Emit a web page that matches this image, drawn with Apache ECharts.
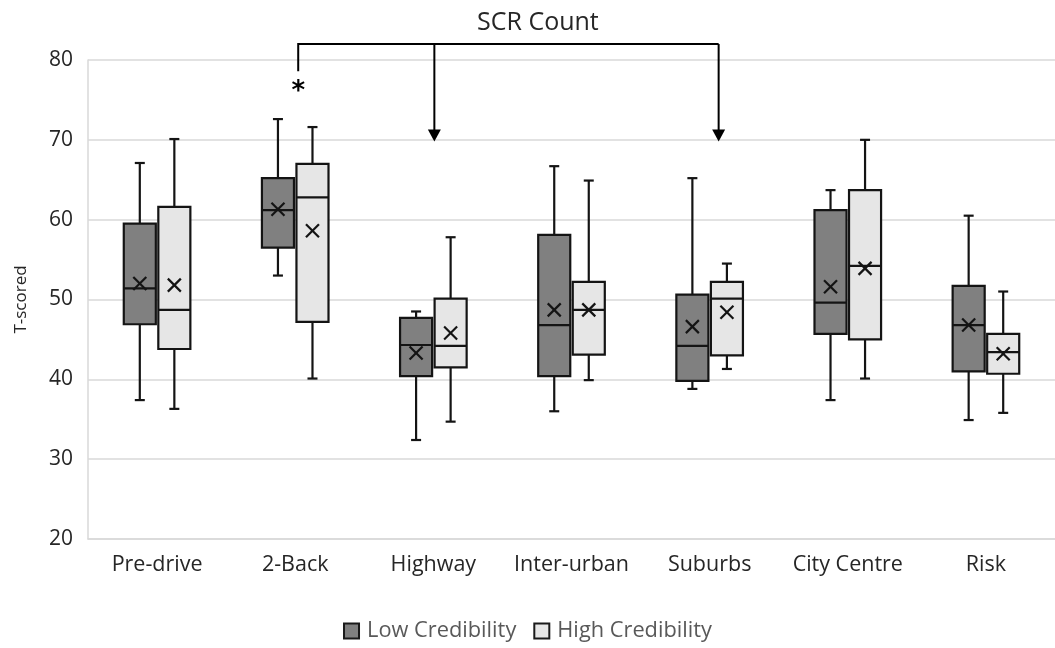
<!DOCTYPE html>
<html>
<head>
<meta charset="utf-8">
<script src="https://cdn.jsdelivr.net/npm/echarts@6/dist/echarts.min.js"></script>
<style>html,body{margin:0;padding:0;background:#fff}#c{width:1055px;height:648px}</style>
</head>
<body>
<div id="c"></div>
<script>
// ---- data ----
const categories = ['Pre-drive', '2-Back', 'Highway', 'Inter-urban', 'Suburbs', 'City Centre', 'Risk'];
const yTicks = [20, 30, 40, 50, 60, 70, 80];

const lowMin    = [37.4, 53.0, 32.4, 36.0, 38.8, 37.4, 34.9];
const lowQ1     = [46.9, 56.5, 40.4, 40.4, 39.8, 45.7, 41.0];
const lowMedian = [51.4, 61.2, 44.3, 46.8, 44.2, 49.6, 46.8];
const lowQ3     = [59.5, 65.2, 47.7, 58.1, 50.6, 61.2, 51.7];
const lowMax    = [67.1, 72.6, 48.5, 66.7, 65.2, 63.7, 60.5];
const lowMean   = [52.0, 61.3, 43.3, 48.7, 46.6, 51.6, 46.8];

const highMin    = [36.3, 40.1, 34.7, 39.9, 41.3, 40.1, 35.8];
const highQ1     = [43.8, 47.2, 41.5, 43.1, 43.0, 45.0, 40.7];
const highMedian = [48.7, 62.8, 44.2, 48.7, 50.1, 54.2, 43.4];
const highQ3     = [61.6, 67.0, 50.1, 52.2, 52.2, 63.7, 45.7];
const highMax    = [70.1, 71.6, 57.8, 64.9, 54.5, 70.0, 51.0];
const highMean   = [51.8, 58.6, 45.8, 48.7, 48.4, 53.9, 43.2];

const seriesNames = ['Low Credibility', 'High Credibility'];

// significance annotation (category index, values)
const bracketFrom = 1;          // 2-Back
const bracketTargets = [2, 4];  // Highway, Suburbs
const bracketY = 82;
const arrowTipY = 69.8;
const bracketLeftEndY = 78.6;
const starY = 75.9;

// ---- build ----
function rows(mn, q1, md, q3, mx, mean) {
  return categories.map((c, i) => [i, mn[i], q1[i], md[i], q3[i], mx[i], mean[i]]);
}
const lowData = rows(lowMin, lowQ1, lowMedian, lowQ3, lowMax, lowMean);
const highData = rows(highMin, highQ1, highMedian, highQ3, highMax, highMean);

function boxRenderer(offsetFrac, fill) {
  return function (params, api) {
    const ci = api.value(0);
    const band = api.size([1, 0])[0];
    const cx = api.coord([ci, 0])[0] + offsetFrac * band;
    const y = k => api.coord([ci, api.value(k)])[1];
    const yMin = y(1), yQ1 = y(2), yMed = y(3), yQ3 = y(4), yMax = y(5), yMean = y(6);
    const hw = 0.116 * band;
    const cap = 5;
    const xs = 6.5;
    const stroke = { stroke: '#141414', lineWidth: 2.2, fill: null };
    return {
      type: 'group',
      children: [
        { type: 'line', shape: { x1: cx, y1: yMax, x2: cx, y2: yQ3 }, style: stroke },
        { type: 'line', shape: { x1: cx, y1: yQ1, x2: cx, y2: yMin }, style: stroke },
        { type: 'line', shape: { x1: cx - cap, y1: yMax, x2: cx + cap, y2: yMax }, style: stroke },
        { type: 'line', shape: { x1: cx - cap, y1: yMin, x2: cx + cap, y2: yMin }, style: stroke },
        { type: 'rect', shape: { x: cx - hw, y: yQ3, width: 2 * hw, height: yQ1 - yQ3 },
          style: { fill: fill, stroke: '#141414', lineWidth: 2.2 } },
        { type: 'line', shape: { x1: cx - hw, y1: yMed, x2: cx + hw, y2: yMed }, style: stroke },
        { type: 'line', shape: { x1: cx - xs, y1: yMean - xs, x2: cx + xs, y2: yMean + xs }, style: stroke },
        { type: 'line', shape: { x1: cx - xs, y1: yMean + xs, x2: cx + xs, y2: yMean - xs }, style: stroke }
      ]
    };
  };
}

function annotationRenderer(params, api) {
  const nudges = [3, 1, 9];
  const xFrom = api.coord([bracketFrom, 0])[0] + nudges[0];
  const yTop = api.coord([bracketFrom, bracketY])[1];
  const yLeftEnd = api.coord([bracketFrom, bracketLeftEndY])[1];
  const yTip = api.coord([bracketFrom, arrowTipY])[1];
  const yStar = api.coord([bracketFrom, starY])[1];
  const st = { stroke: '#000', lineWidth: 2, fill: null };
  const xt = bracketTargets.map((t, i) => api.coord([t, 0])[0] + nudges[i + 1]);
  const xRight = Math.max.apply(null, xt);
  const children = [
    { type: 'polyline', shape: { points: [[xFrom, yLeftEnd], [xFrom, yTop], [xRight, yTop]] }, style: st },
    { type: 'text', x: xFrom, y: yStar, style: { text: '*', fontSize: 26, fontWeight: 'bold',
        fontFamily: 'DejaVu Sans', fill: '#000', align: 'center', verticalAlign: 'middle' } }
  ];
  xt.forEach(x => {
    children.push({ type: 'line', shape: { x1: x, y1: yTop, x2: x, y2: yTip - 10 }, style: st });
    children.push({ type: 'polygon', shape: { points: [[x - 6.5, yTip - 12], [x + 6.5, yTip - 12], [x, yTip]] },
      style: { fill: '#000' } });
  });
  return { type: 'group', children: children };
}

const font = '"Open Sans", "Noto Sans", sans-serif';
const chart = echarts.init(document.getElementById('c'), null, { renderer: 'canvas' });
chart.setOption({
  animation: false,
  backgroundColor: '#fff',
  title: {
    text: 'SCR Count', left: 472, top: 5,
    textStyle: { fontFamily: font, fontSize: 25, fontWeight: 'normal', color: '#262626' }
  },
  legend: {
    bottom: 1, left: 'center', itemWidth: 15, itemHeight: 15, itemGap: 17,
    icon: 'rect',
    textStyle: { fontFamily: font, fontSize: 21.8, color: '#595959', padding: [0, 0, 0, 3] },
    data: [
      { name: seriesNames[0], itemStyle: { color: '#808080', borderColor: '#1a1a1a', borderWidth: 2 } },
      { name: seriesNames[1], itemStyle: { color: '#e6e6e6', borderColor: '#1a1a1a', borderWidth: 2 } }
    ]
  },
  grid: { left: 88, right: -7, top: 60, bottom: 109 },
  xAxis: {
    type: 'category', data: categories,
    axisLine: { show: true, lineStyle: { color: '#d9d9d9', width: 1.5 } },
    axisTick: { show: false },
    axisLabel: { fontFamily: font, fontSize: 21.5, color: '#262626', margin: 15, interval: 0 },
    splitLine: { show: false }
  },
  yAxis: {
    type: 'value', min: yTicks[0], max: yTicks[yTicks.length - 1], interval: 10,
    name: 'T-scored', nameLocation: 'middle', nameGap: 58, nameRotate: 90,
    nameTextStyle: { fontFamily: font, fontSize: 17, color: '#262626' },
    axisLine: { show: true, lineStyle: { color: '#d9d9d9', width: 1.5 } },
    axisTick: { show: false },
    axisLabel: { fontFamily: font, fontSize: 21, color: '#262626', margin: 15 },
    splitLine: { show: true, lineStyle: { color: '#d9d9d9', width: 1.5 } }
  },
  series: [
    { name: seriesNames[0], type: 'custom', data: lowData,
      itemStyle: { color: '#808080', borderColor: '#1a1a1a', borderWidth: 2 },
      encode: { x: 0, y: [1, 2, 3, 4, 5, 6] },
      renderItem: boxRenderer(-0.125, '#808080') },
    { name: seriesNames[1], type: 'custom', data: highData,
      itemStyle: { color: '#e6e6e6', borderColor: '#1a1a1a', borderWidth: 2 },
      encode: { x: 0, y: [1, 2, 3, 4, 5, 6] },
      renderItem: boxRenderer(0.125, '#e6e6e6') },
    { name: 'annotation', type: 'custom', clip: false, silent: true,
      data: [[bracketFrom, bracketY]],
      encode: { x: 0, y: 1 },
      renderItem: annotationRenderer }
  ]
});
</script>
</body>
</html>
